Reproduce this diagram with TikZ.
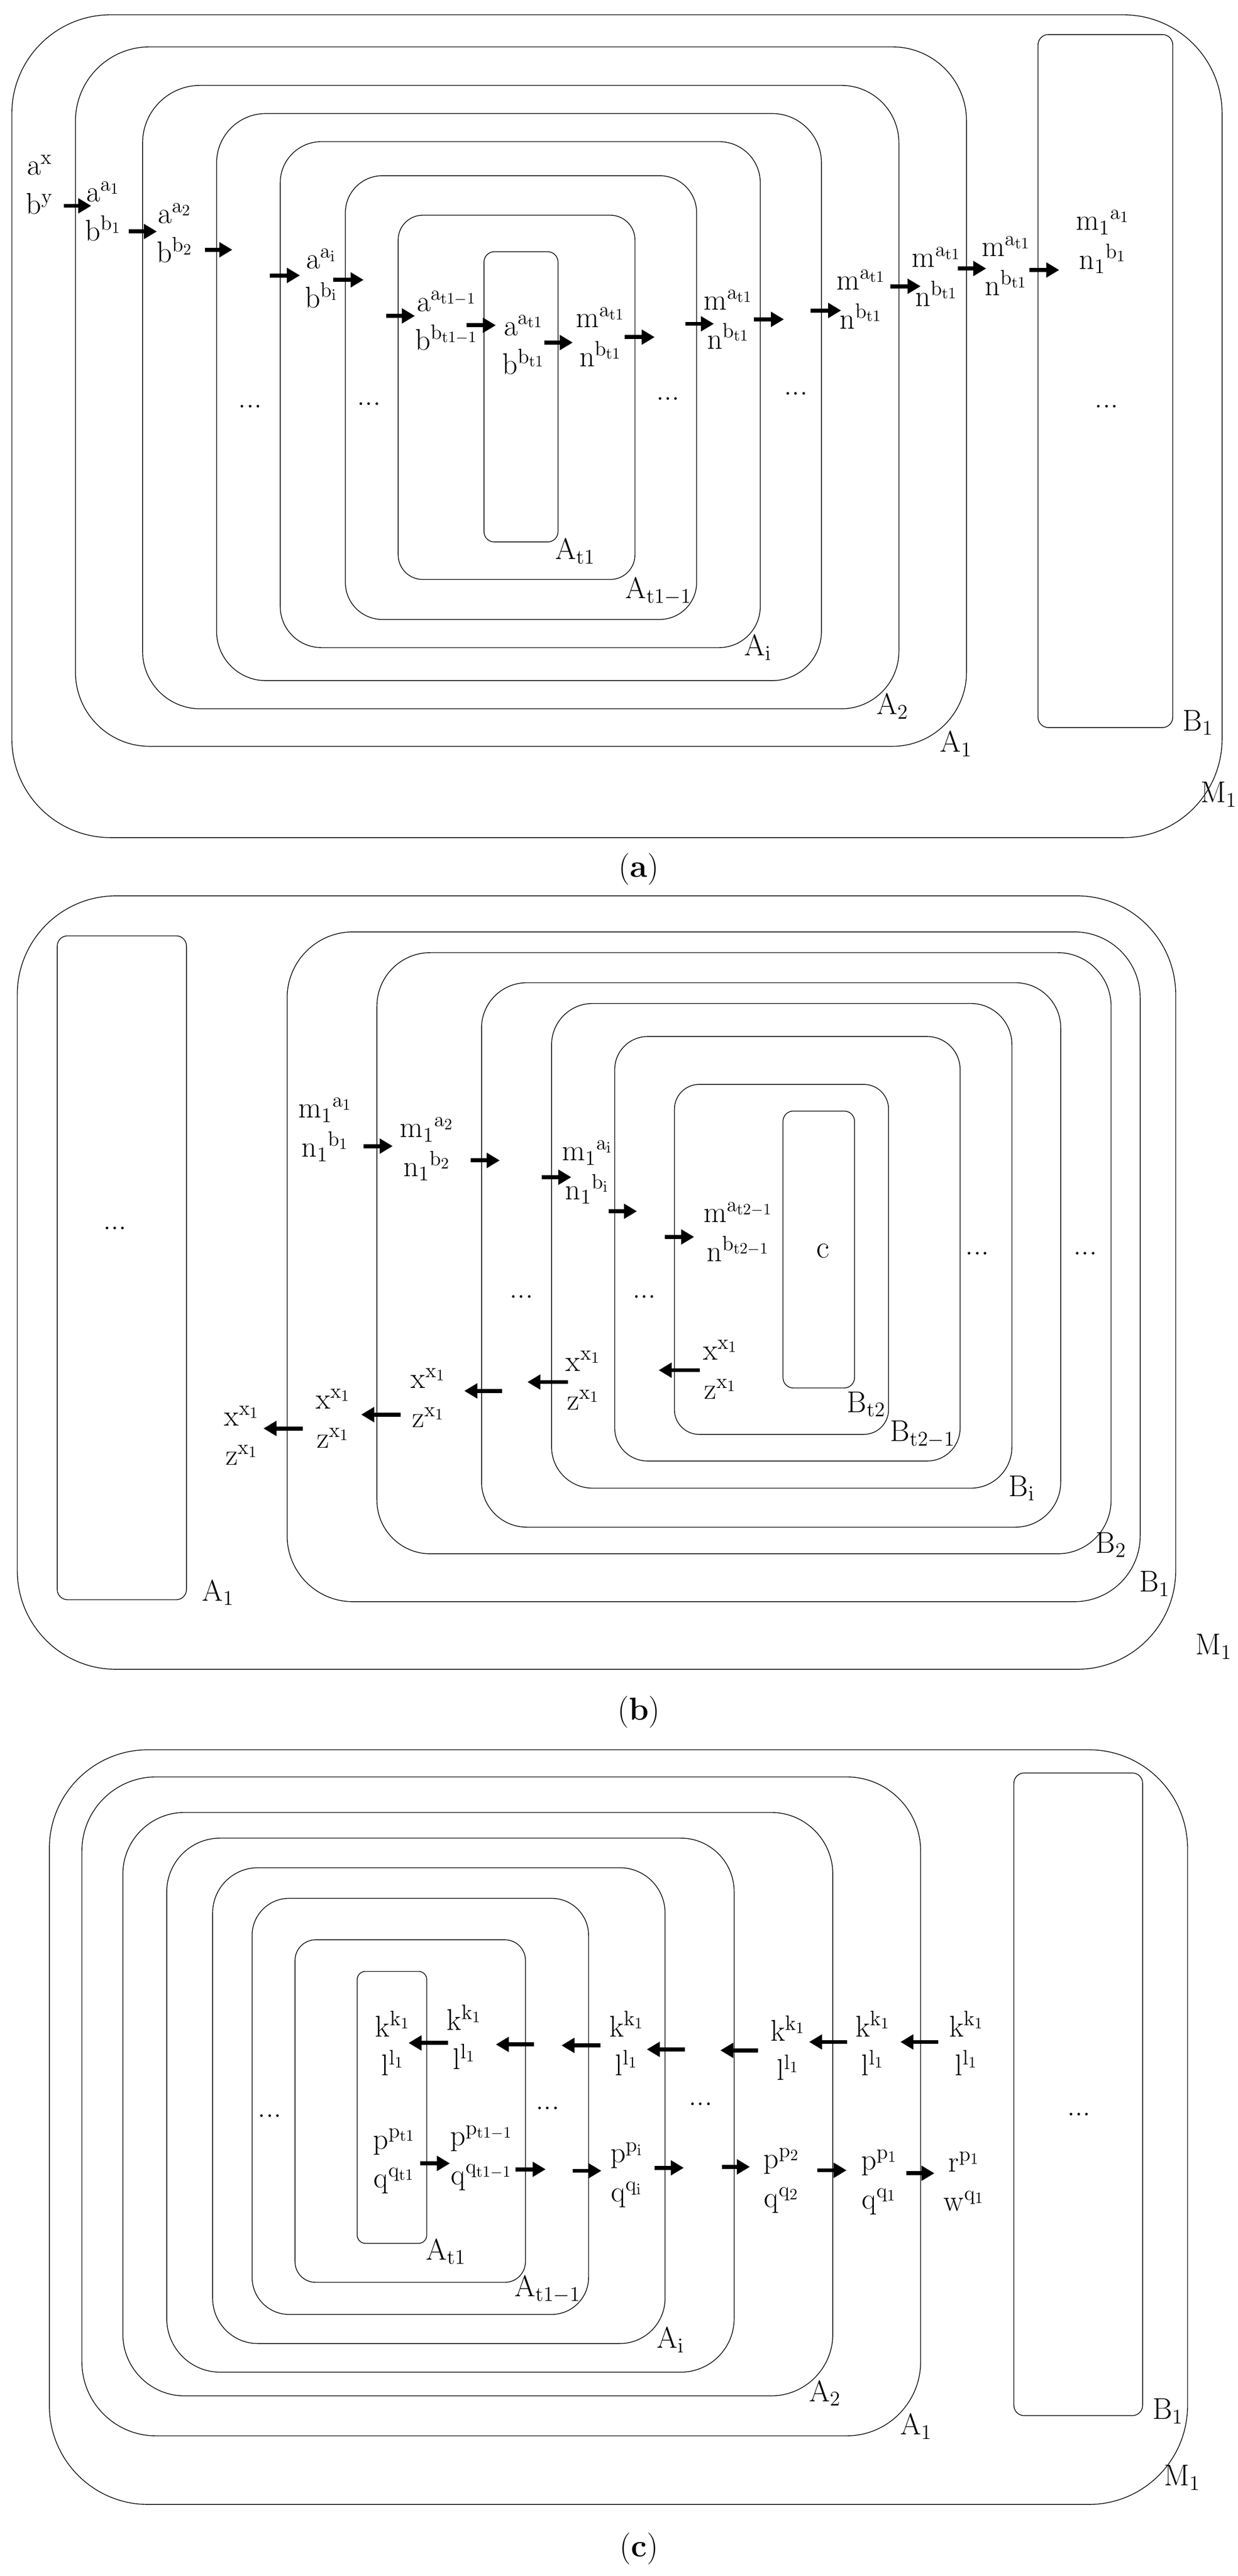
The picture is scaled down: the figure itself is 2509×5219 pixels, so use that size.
\documentclass[tikz,border=0pt]{standalone}
\usepackage{amsmath}
\usetikzlibrary{arrows.meta}
\tikzset{
  box/.style={black,line width=0.5pt},
  arr/.style={line width=2.8pt,-{Triangle[length=9pt,width=10pt]}},
  stk/.style={align=center,font=\fontsize{22}{27}\selectfont,inner sep=0pt},
  lbl/.style={font=\fontsize{22}{27}\selectfont,inner sep=0pt},
}
\begin{document}
\begin{tikzpicture}[x=0.012cm,y=-0.012cm]
\useasboundingbox (0,0) rectangle (2509,5219);

% (a)
\draw[box,rounded corners=2.4cm] (24,30) rectangle (2477,1697);
\draw[box,rounded corners=1.8cm] (153,95) rectangle (1959,1512);
\draw[box,rounded corners=1.4cm] (289,173) rectangle (1822,1436);
\draw[box,rounded corners=1.2cm] (439,230) rectangle (1665,1379);
\draw[box,rounded corners=1.0cm] (568,287) rectangle (1541,1312);
\draw[box,rounded corners=0.9cm] (700,356) rectangle (1412,1255);
\draw[box,rounded corners=0.6cm] (807,436) rectangle (1287,1174);
\draw[box,rounded corners=0.25cm] (981,510) rectangle (1131,1098);
\draw[box,rounded corners=0.25cm] (2104,70) rectangle (2377,1474);

\node[lbl] (la1) at (1166,1117) {$\mathrm{A_{t1}}$};
\node[lbl] (la2) at (1335,1198) {$\mathrm{A_{t1-1}}$};
\node[lbl] (la3) at (1536,1312) {$\mathrm{A_i}$};
\node[lbl] (la4) at (1809,1431) {$\mathrm{A_2}$};
\node[lbl] (la5) at (1938,1507) {$\mathrm{A_1}$};
\node[lbl] (la6) at (2428,1464) {$\mathrm{B_1}$};
\node[lbl] (la7) at (2470,1610) {$\mathrm{M_1}$};

\node[stk] (a0) at (80,374) {$\mathrm{a^x}$\\$\mathrm{b^y}$};
\node[stk] (a1) at (209,428) {$\mathrm{a^{a_1}}$\\$\mathrm{b^{b_1}}$};
\node[stk] (a2) at (354,472) {$\mathrm{a^{a_2}}$\\$\mathrm{b^{b_2}}$};
\node[stk] (a3) at (651,564) {$\mathrm{a^{a_i}}$\\$\mathrm{b^{b_i}}$};
\node[stk] (a4) at (905,650) {$\mathrm{a^{a_{t1-1}}}$\\$\mathrm{b^{b_{t1-1}}}$};
\node[stk] (a5) at (1061,699) {$\mathrm{a^{a_{t1}}}$\\$\mathrm{b^{b_{t1}}}$};
\node[stk] (a6) at (1217,683) {$\mathrm{m^{a_{t1}}}$\\$\mathrm{n^{b_{t1}}}$};
\node[stk] (a7) at (1476,647) {$\mathrm{m^{a_{t1}}}$\\$\mathrm{n^{b_{t1}}}$};
\node[stk] (a8) at (1745,607) {$\mathrm{m^{a_{t1}}}$\\$\mathrm{n^{b_{t1}}}$};
\node[stk] (a9) at (1898,561) {$\mathrm{m^{a_{t1}}}$\\$\mathrm{n^{b_{t1}}}$};
\node[stk] (a10) at (2039,539) {$\mathrm{m^{a_{t1}}}$\\$\mathrm{n^{b_{t1}}}$};
\node[stk] (a11) at (2235,490) {$\mathrm{m_{1}{}^{a_1}}$\\$\mathrm{n_{1}{}^{b_1}}$};

\foreach \n/\x/\y in {1/507/824,2/748/818,3/1354/808,4/1613/797,5/2243/824}
  \node[lbl] (ad\n) at (\x,\y) {...};

\foreach \n/\xa/\xb/\y in {1/129/185/417, 2/261/318/469, 3/415/471/506,
    4/547/608/558, 5/675/737/567, 6/783/841/640, 7/946/1005/659,
    8/1103/1161/694, 9/1266/1327/683, 10/1389/1447/656, 11/1528/1589/647,
    12/1643/1705/629, 13/1805/1866/580, 14/1941/1999/544, 15/2087/2147/547}
{
  \coordinate (as\n) at (\xa,\y);
  \coordinate (ae\n) at (\xb,\y);
  \draw[arr] (as\n) -- (ae\n);
}
\node[lbl] (capa) at (1295,1761) {(\textbf{a})};

% (b)
\draw[box,rounded corners=2.4cm] (35,1815) rectangle (2383,3382);
\draw[box,rounded corners=0.25cm] (116,1896) rectangle (378,3241);
\draw[box,rounded corners=1.6cm] (582,1888) rectangle (2311,3245);
\draw[box,rounded corners=1.3cm] (764,1930) rectangle (2252,3148);
\draw[box,rounded corners=1.1cm] (976,1991) rectangle (2150,3094);
\draw[box,rounded corners=1.0cm] (1118,2033) rectangle (2051,3015);
\draw[box,rounded corners=0.8cm] (1246,2100) rectangle (1946,2960);
\draw[box,rounded corners=0.6cm] (1367,2197) rectangle (1801,2906);
\draw[box,rounded corners=0.25cm] (1587,2251) rectangle (1732,2812);

\node[lbl] (lb1) at (442,3227) {$\mathrm{A_1}$};
\node[lbl] (lb2) at (2340,3209) {$\mathrm{B_1}$};
\node[lbl] (lb3) at (2252,3130) {$\mathrm{B_2}$};
\node[lbl] (lb4) at (2071,3015) {$\mathrm{B_i}$};
\node[lbl] (lb5) at (1870,2906) {$\mathrm{B_{t2-1}}$};
\node[lbl] (lb6) at (1756,2845) {$\mathrm{B_{t2}}$};
\node[lbl] (lb7) at (2460,3336) {$\mathrm{M_1}$};
\node[lbl] (lbc) at (1668,2534) {c};

\foreach \n/\x/\y in {1/233/2488,2/1981/2540,3/2200/2540,4/1057/2627,5/1306/2627}
  \node[lbl] (bd\n) at (\x,\y) {...};

\node[stk] (b1) at (659,2289) {$\mathrm{m_{1}{}^{a_1}}$\\$\mathrm{n_{1}{}^{b_1}}$};
\node[stk] (b2) at (865,2328) {$\mathrm{m_{1}{}^{a_2}}$\\$\mathrm{n_{1}{}^{b_2}}$};
\node[stk] (b3) at (1190,2375) {$\mathrm{m_{1}{}^{a_i}}$\\$\mathrm{n_{1}{}^{b_i}}$};
\node[stk] (b4) at (1496,2496) {$\mathrm{m^{a_{t2-1}}}$\\$\mathrm{n^{b_{t2-1}}}$};
\node[stk] (b5) at (1460,2775) {$\mathrm{x^{x_1}}$\\$\mathrm{z^{x_1}}$};
\node[stk] (b6) at (1182,2797) {$\mathrm{x^{x_1}}$\\$\mathrm{z^{x_1}}$};
\node[stk] (b7) at (868,2832) {$\mathrm{x^{x_1}}$\\$\mathrm{z^{x_1}}$};
\node[stk] (b8) at (675,2874) {$\mathrm{x^{x_1}}$\\$\mathrm{z^{x_1}}$};
\node[stk] (b9) at (490,2908) {$\mathrm{x^{x_1}}$\\$\mathrm{z^{x_1}}$};

\foreach \n/\xa/\xb/\y in {1/737/796/2322, 2/954/1013/2351, 3/1098/1158/2385,
    4/1234/1291/2454, 5/1348/1407/2506, 6/1418/1335/2776, 7/1151/1069/2800,
    8/1018/941/2818, 9/812/732/2866, 10/614/534/2894}
{
  \coordinate (bs\n) at (\xa,\y);
  \coordinate (be\n) at (\xb,\y);
  \draw[arr] (bs\n) -- (be\n);
}
\node[lbl] (capb) at (1295,3469) {(\textbf{b})};

% (c)
\draw[box,rounded corners=2.4cm] (100,3545) rectangle (2407,5074);
\draw[box,rounded corners=1.8cm] (166,3600) rectangle (1866,4935);
\draw[box,rounded corners=1.5cm] (249,3672) rectangle (1688,4854);
\draw[box,rounded corners=1.3cm] (338,3724) rectangle (1488,4806);
\draw[box,rounded corners=1.1cm] (431,3784) rectangle (1348,4748);
\draw[box,rounded corners=0.9cm] (511,3846) rectangle (1193,4689);
\draw[box,rounded corners=0.5cm] (598,3930) rectangle (1065,4624);
\draw[box,rounded corners=0.2cm] (724,3994) rectangle (865,4545);
\draw[box,rounded corners=0.25cm] (2055,3592) rectangle (2316,4894);

\node[lbl] (lc1) at (904,4562) {$\mathrm{A_{t1}}$};
\node[lbl] (lc2) at (1110,4638) {$\mathrm{A_{t1-1}}$};
\node[lbl] (lc3) at (1359,4741) {$\mathrm{A_i}$};
\node[lbl] (lc4) at (1672,4849) {$\mathrm{A_2}$};
\node[lbl] (lc5) at (1857,4916) {$\mathrm{A_1}$};
\node[lbl] (lc6) at (2367,4885) {$\mathrm{B_1}$};
\node[lbl] (lc7) at (2396,5020) {$\mathrm{M_1}$};

\foreach \n/\x/\y in {1/547/4287,2/1110/4271,3/1420/4263,4/2187/4284}
  \node[lbl] (cd\n) at (\x,\y) {...};

\foreach \n/\x/\y in {1/796/4140,2/941/4127,3/1270/4140,4/1597/4149,5/1769/4140,6/1959/4140}
  \node[stk] (k\n) at (\x,\y) {$\mathrm{k^{k_1}}$\\$\mathrm{l^{l_1}}$};

\node[stk] (p1) at (799,4379) {$\mathrm{p^{p_{t1}}}$\\$\mathrm{q^{q_{t1}}}$};
\node[stk] (p2) at (976,4372) {$\mathrm{p^{p_{t1-1}}}$\\$\mathrm{q^{q_{t1-1}}}$};
\node[stk] (p3) at (1270,4407) {$\mathrm{p^{p_i}}$\\$\mathrm{q^{q_i}}$};
\node[stk] (p4) at (1584,4418) {$\mathrm{p^{p_2}}$\\$\mathrm{q^{q_2}}$};
\node[stk] (p5) at (1782,4421) {$\mathrm{p^{p_1}}$\\$\mathrm{q^{q_1}}$};
\node[stk] (p6) at (1954,4420) {$\mathrm{r^{p_1}}$\\$\mathrm{w^{q_1}}$};

\foreach \n/\xa/\xb/\y in {1/908/828/4139, 2/1082/1005/4142, 3/1217/1138/4144,
    4/1388/1311/4152, 5/1536/1460/4154, 6/1717/1640/4137, 7/1902/1825/4137,
    8/852/912/4383, 9/1045/1106/4395, 10/1161/1219/4398, 11/1327/1386/4392,
    12/1463/1520/4390, 13/1656/1716/4397, 14/1837/1894/4403}
{
  \coordinate (cs\n) at (\xa,\y);
  \coordinate (ce\n) at (\xb,\y);
  \draw[arr] (cs\n) -- (ce\n);
}
\node[lbl] (capc) at (1295,5164) {(\textbf{c})};

\end{tikzpicture}
\end{document}
